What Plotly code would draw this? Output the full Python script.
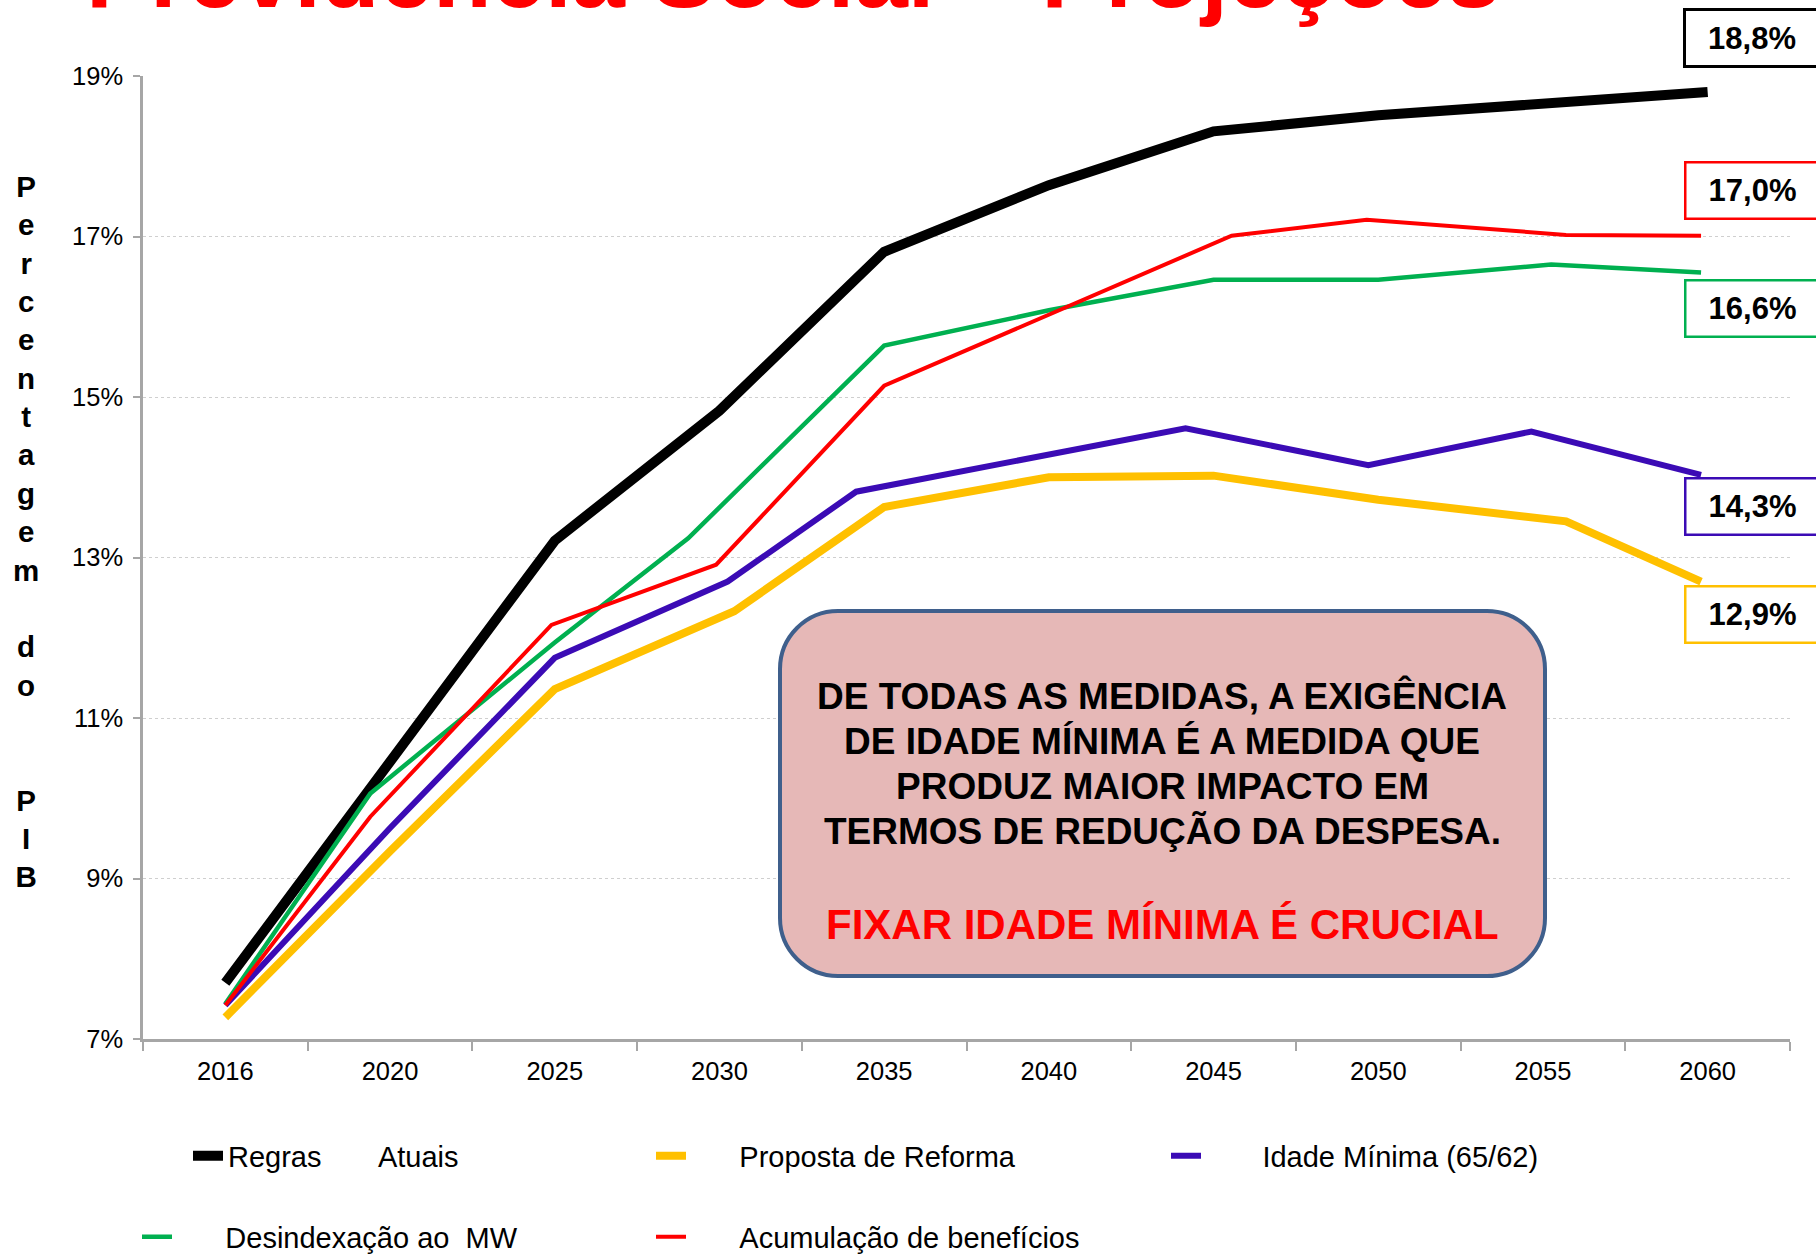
import plotly.graph_objects as go

# ---------------- data ----------------
years = ["2016", "2020", "2025", "2030", "2035", "2040", "2045", "2050", "2055", "2060"]
y_ticks = [7, 9, 11, 13, 15, 17, 19]
y_tick_text = [f"{v}%" for v in y_ticks]

# x positions in category units (0 = 2016 ... 9 = 2060), values in % of GDP
regras_x = [0, 1, 2, 3, 4, 5, 6, 7, 8, 9]
regras_y = [7.70, 10.45, 13.21, 14.83, 16.81, 17.64, 18.31, 18.51, 18.67, 18.80]

proposta_x = [0, 1, 2, 3.09, 4, 5, 6, 7, 8.14, 8.96]
proposta_y = [7.27, 9.34, 11.36, 12.33, 13.63, 14.00, 14.02, 13.72, 13.45, 12.70]

idade_x = [0, 1, 2, 3.05, 3.83, 5.83, 6.94, 7.93, 8.96]
idade_y = [7.42, 9.63, 11.75, 12.70, 13.82, 14.61, 14.15, 14.57, 14.03]

desind_x = [0, 0.88, 2, 2.81, 4, 5, 6, 7, 8.05, 8.96]
desind_y = [7.44, 10.06, 11.94, 13.24, 15.64, 16.08, 16.46, 16.46, 16.65, 16.55]

acum_x = [0, 0.88, 1.98, 2.98, 4, 6.11, 6.93, 8.14, 8.96]
acum_y = [7.42, 9.77, 12.16, 12.91, 15.14, 17.01, 17.21, 17.02, 17.01]

series_names = ["Regras\u00a0\u00a0\u00a0\u00a0\u00a0\u00a0\u00a0Atuais", "Proposta de Reforma",
                "Idade Mínima (65/62)", "Desindexação ao\u00a0\u00a0MW", "Acumulação de benefícios"]
end_labels = ["18,8%", "17,0%", "16,6%", "14,3%", "12,9%"]

title_text = "Previdência Social – Projeções"
y_title_lines = ["P", "e", "r", "c", "e", "n", "t", "a", "g", "e", "m", "\u00a0",
                 "d", "o", "\u00a0", "\u00a0", "P", "I", "B"]
box_lines = ["DE TODAS AS MEDIDAS, A EXIGÊNCIA", "DE IDADE MÍNIMA É A MEDIDA QUE",
             "PRODUZ MAIOR IMPACTO EM", "TERMOS DE REDUÇÃO DA DESPESA."]
box_red = "FIXAR IDADE MÍNIMA É CRUCIAL"

# ---------------- layout helpers (page pixel coordinates) ----------------
W, H = 1816, 1254
L, R, T, B = 143, 1790, 76, 1039   # plot area in page pixels
PW, PH = R - L, B - T


def px(xp):
    return (xp - L) / PW


def py(yp):
    return (B - yp) / PH


FONT = "Liberation Sans, Arial, sans-serif"
BLACK, YELLOW, PURPLE, GREEN, RED = "#000000", "#FFC000", "#3B0BB5", "#00B050", "#FF0000"
AXIS_GREY = "#A6A6A6"
NB = "\u00a0"

fig = go.Figure()

# (x, y, name, colour, width, legend id, legend left px, legend centre y px, gap spaces)
traces = [
    (regras_x, regras_y, series_names[0], BLACK, 10, "legend", 188, 1156, 0),
    (proposta_x, proposta_y, series_names[1], YELLOW, 8, "legend2", 651, 1156, 6),
    (idade_x, idade_y, series_names[2], PURPLE, 6, "legend3", 1166, 1156, 7),
    (desind_x, desind_y, series_names[3], GREEN, 4.5, "legend4", 137, 1237, 6),
    (acum_x, acum_y, series_names[4], RED, 4, "legend5", 651, 1237, 6),
]
legend_layout = {}
for xs, ys, name, color, w, lg, lx, ly, gap in traces:
    fig.add_trace(go.Scatter(x=xs, y=ys, name=NB * gap + name, mode="lines",
                             line=dict(color=color, width=w), legend=lg,
                             hoverinfo="skip"))
    legend_layout[lg] = dict(x=px(lx), y=py(ly), xanchor="left", yanchor="middle",
                             orientation="h", bgcolor="rgba(0,0,0,0)",
                             font=dict(family=FONT, size=29, color="#000000"),
                             itemwidth=30)

annotations = []
# title (cut off at the top like the source)
annotations.append(dict(text="<b>" + title_text + "</b>", xref="paper", yref="paper",
                        x=px(84), y=py(29), xanchor="left", yanchor="bottom",
                        showarrow=False, font=dict(family=FONT, size=96, color=RED)))
# y-axis title (stacked letters)
annotations.append(dict(text="<b>" + "<br>".join(y_title_lines) + "</b>", xref="paper", yref="paper",
                        x=px(26), y=py(531), xanchor="center", yanchor="middle",
                        showarrow=False, align="center",
                        font=dict(family=FONT, size=29.5, color="#000000")))
# end-value boxes
box_specs = [(38, BLACK, 3), (190, RED, 2.5), (309, GREEN, 2.5), (506, PURPLE, 2.5), (614, YELLOW, 2.5)]
for lab, (cy, col, bw) in zip(end_labels, box_specs):
    annotations.append(dict(text="<b>" + lab + "</b>", xref="paper", yref="paper",
                            x=px(1752), y=py(cy), xanchor="center", yanchor="middle",
                            showarrow=False, width=128, height=50, borderpad=2,
                            bordercolor=col, borderwidth=bw, bgcolor="#FFFFFF",
                            font=dict(family=FONT, size=31, color="#000000")))
# central message
for line, cy in zip(box_lines, [696, 741, 786, 831]):
    annotations.append(dict(text="<b>" + line + "</b>", xref="paper", yref="paper",
                            x=px(1162), y=py(cy), xanchor="center", yanchor="middle",
                            showarrow=False, font=dict(family=FONT, size=37, color="#000000")))
annotations.append(dict(text="<b>" + box_red + "</b>", xref="paper", yref="paper",
                        x=px(1162), y=py(924), xanchor="center", yanchor="middle",
                        showarrow=False, font=dict(family=FONT, size=42, color=RED)))

# rounded rectangle behind the message
bx0, bx1, by0, by1 = px(780), px(1545), py(976), py(611)
rx, ry = 58 / PW, 58 / PH
k = 0.5523
path = (f"M{bx0+rx},{by1} L{bx1-rx},{by1} "
        f"C{bx1-rx+k*rx},{by1} {bx1},{by1-ry+k*ry} {bx1},{by1-ry} "
        f"L{bx1},{by0+ry} "
        f"C{bx1},{by0+ry-k*ry} {bx1-rx+k*rx},{by0} {bx1-rx},{by0} "
        f"L{bx0+rx},{by0} "
        f"C{bx0+rx-k*rx},{by0} {bx0},{by0+ry-k*ry} {bx0},{by0+ry} "
        f"L{bx0},{by1-ry} "
        f"C{bx0},{by1-ry+k*ry} {bx0+rx-k*rx},{by1} {bx0+rx},{by1} Z")
shapes = [dict(type="path", path=path, xref="paper", yref="paper", layer="above",
               fillcolor="#E6B8B7", line=dict(color="#3F5F8C", width=4))]

fig.update_layout(
    width=W, height=H,
    margin=dict(l=L, r=W - R, t=T, b=H - B, autoexpand=False),
    paper_bgcolor="#FFFFFF", plot_bgcolor="#FFFFFF",
    font=dict(family=FONT, size=25.5, color="#000000"),
    showlegend=True,
    annotations=annotations,
    shapes=shapes,
    xaxis=dict(range=[-0.5, 9.5], tickmode="array", tickvals=list(range(len(years))),
               ticktext=years, ticks="outside", ticklen=7, tickcolor="rgba(0,0,0,0)",
               showgrid=False, zeroline=False, showline=True, linecolor=AXIS_GREY,
               linewidth=3, tickfont=dict(family=FONT, size=25.5, color="#000000"),
               minor=dict(tickmode="array", tickvals=[i - 0.5 for i in range(len(years) + 1)],
                          ticks="outside", ticklen=9, tickcolor=AXIS_GREY, tickwidth=2,
                          showgrid=False),
               fixedrange=True),
    yaxis=dict(range=[7, 19], tickmode="array", tickvals=y_ticks, ticktext=y_tick_text,
               ticks="outside", ticklen=7, tickcolor=AXIS_GREY, tickwidth=2,
               ticklabelstandoff=5,
               showline=True, linecolor=AXIS_GREY, linewidth=2.5, zeroline=False,
               showgrid=True, gridcolor="#CFCFCF", griddash="dot", gridwidth=1,
               tickfont=dict(family=FONT, size=25.5, color="#000000"),
               fixedrange=True),
    **legend_layout,
)

fig.write_html("out.html", config={"displayModeBar": False},
               post_script="document.body.style.margin='0px';")
